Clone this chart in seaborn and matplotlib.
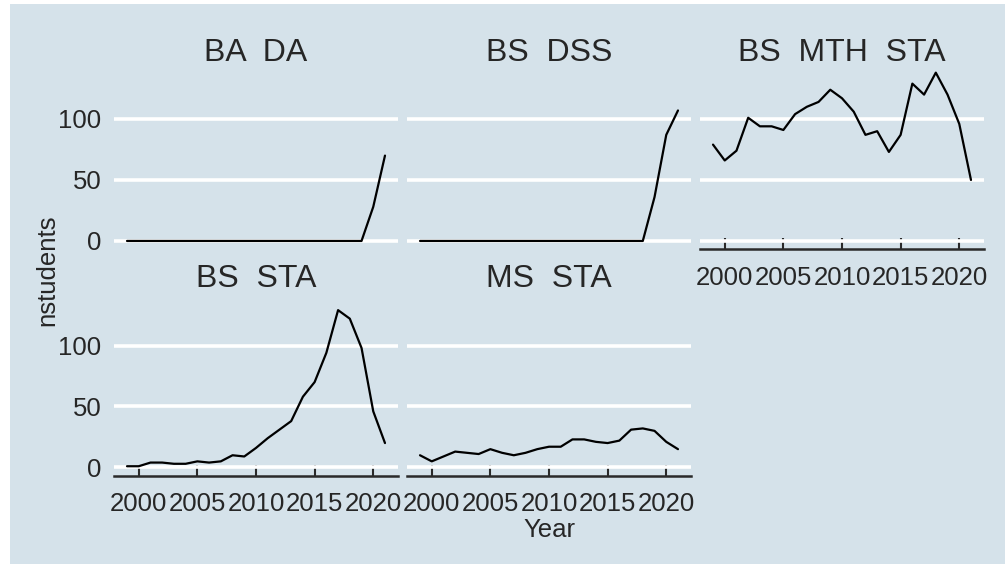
import pandas as pd
import matplotlib.pyplot as plt
import seaborn as sns
from matplotlib.patches import Rectangle

BG = "#d5e2ea"
W, H = 1005, 564

YEARS = [1999, 2000, 2001, 2002, 2003, 2004, 2005, 2006, 2007, 2008, 2009, 2010,
         2011, 2012, 2013, 2014, 2015, 2016, 2017, 2018, 2019, 2020, 2021]
PROGRAMS = ["BA  DA", "BS  DSS", "BS  MTH  STA", "BS  STA", "MS  STA"]

BA_DA = [0, 0, 0, 0, 0, 0, 0, 0, 0, 0, 0, 0, 0, 0, 0, 0, 0, 0, 0, 0, 0, 28, 70]
BS_DSS = [0, 0, 0, 0, 0, 0, 0, 0, 0, 0, 0, 0, 0, 0, 0, 0, 0, 0, 0, 0, 36, 87, 107]
BS_MTH_STA = [79, 66, 74, 101, 94, 94, 91, 104, 110, 114, 124, 117,
              106, 87, 90, 73, 87, 129, 120, 138, 120, 96, 50]
BS_STA = [1, 1, 4, 4, 3, 3, 5, 4, 5, 10, 9, 16,
          24, 31, 38, 58, 70, 94, 129, 122, 98, 46, 20]
MS_STA = [10, 5, 9, 13, 12, 11, 15, 12, 10, 12, 15, 17,
          17, 23, 23, 21, 20, 22, 31, 32, 30, 21, 15]

X_TICKS = [2000, 2005, 2010, 2015, 2020]
Y_TICKS = [0, 50, 100]

series = [BA_DA, BS_DSS, BS_MTH_STA, BS_STA, MS_STA]
df = pd.concat([pd.DataFrame({"Year": YEARS, "nstudents": vals, "program": name})
                for name, vals in zip(PROGRAMS, series)], ignore_index=True)

sns.set_style("white", {"axes.facecolor": BG})
plt.rcParams["font.family"] = ["Liberation Sans", "DejaVu Sans"]

g = sns.relplot(data=df, x="Year", y="nstudents", col="program", col_order=PROGRAMS,
                col_wrap=3, kind="line", color="black", linewidth=1.6)
g.set_titles("")
g.set_axis_labels("", "")

fig = g.figure
fig.set_size_inches(W / 100, H / 100)
fig.set_facecolor("white")
fig.patches.append(Rectangle((10 / W, 0), 1 - 10 / W, 1 - 4 / H, transform=fig.transFigure,
                             facecolor=BG, edgecolor="none", zorder=-10))

col_left = {0: 114, 1: 407, 2: 700}
row_bottom = {0: 249, 1: 475.5}
bottom_axes = ["BS  MTH  STA", "BS  STA", "MS  STA"]
left_axes = ["BA  DA", "BS  STA"]
TICK_FS = 18.5

for i, name in enumerate(PROGRAMS):
    ax = g.axes_dict[name]
    r, c = divmod(i, 3)
    ax.set_position([col_left[c] / W, 1 - row_bottom[r] / H, 284 / W, 185 / H])
    ax.set_title(name, fontsize=23, y=1.0, pad=2.5)
    ax.set_facecolor(BG)
    ax.set_xlim(1997.89, 2022.11)
    ax.set_ylim(-6.6, 145.1)
    ax.set_xticks(X_TICKS)
    ax.set_yticks(Y_TICKS)
    ax.grid(axis="y", color="white", linewidth=2.6)
    ax.grid(axis="x", visible=False)
    ax.set_axisbelow(True)
    for side in ["left", "right", "top"]:
        ax.spines[side].set_visible(False)
    ax.tick_params(axis="y", length=0, pad=9, labelsize=TICK_FS, labelleft=name in left_axes)
    if name in bottom_axes:
        ax.spines["bottom"].set_visible(True)
        ax.spines["bottom"].set_color("#2a2a2a")
        ax.spines["bottom"].set_linewidth(1.8)
        ax.tick_params(axis="x", direction="in", length=8, width=1.5, color="#2a2a2a",
                       pad=12, labelsize=TICK_FS, bottom=True, labelbottom=True)
        for lab in ax.get_xticklabels():
            lab.set_visible(True)
    else:
        ax.spines["bottom"].set_visible(False)
        ax.tick_params(axis="x", bottom=False, labelbottom=False)

fig.text(47 / W, 1 - 270 / H, "nstudents", rotation=90, ha="center", va="center", fontsize=TICK_FS)
fig.text(549 / W, 1 - 537 / H, "Year", ha="center", va="baseline", fontsize=TICK_FS)

fig.savefig("out.png", dpi=100)
